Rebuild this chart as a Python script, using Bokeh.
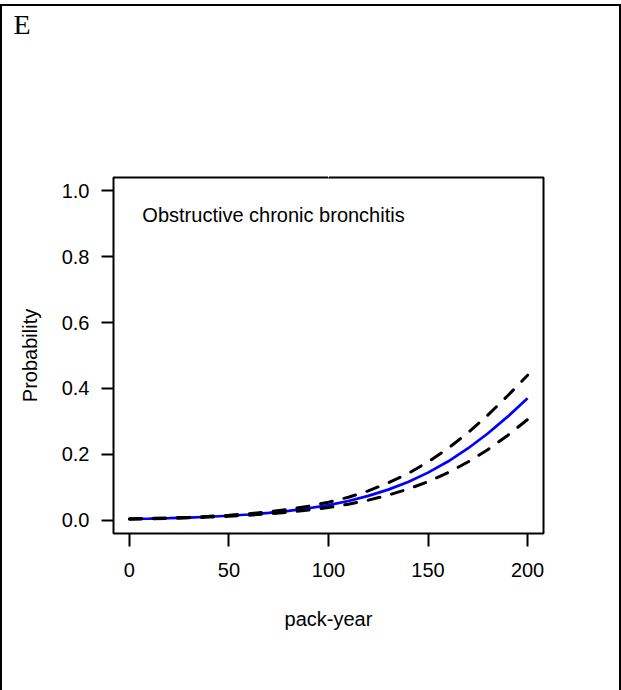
from bokeh.plotting import figure
from bokeh.models import Label, FixedTicker, Range1d, Title, LinearAxis
from bokeh.embed import file_html
from bokeh.resources import INLINE

# ---- data ----
pack_year = [0, 10, 20, 30, 40, 50, 60, 70, 80, 90, 100,
             110, 120, 130, 140, 150, 160, 170, 180, 190, 200]
prob_fit = [0.0040, 0.0051, 0.0066, 0.0084, 0.0108, 0.0138, 0.0176, 0.0225,
            0.0288, 0.0366, 0.0463, 0.0587, 0.0741, 0.0931, 0.1164, 0.1446,
            0.1783, 0.2179, 0.2633, 0.3145, 0.3705]
prob_upper = [0.0046, 0.0058, 0.0074, 0.0094, 0.0120, 0.0154, 0.0200, 0.0258,
              0.0332, 0.0429, 0.0549, 0.0701, 0.0894, 0.1135, 0.1422, 0.1770,
              0.2179, 0.2654, 0.3189, 0.3778, 0.4403]
prob_lower = [0.0034, 0.0045, 0.0058, 0.0075, 0.0097, 0.0123, 0.0156, 0.0196,
              0.0248, 0.0312, 0.0390, 0.0490, 0.0612, 0.0762, 0.0948, 0.1174,
              0.1445, 0.1768, 0.2143, 0.2575, 0.3058]
x_ticks = [0, 50, 100, 150, 200]
y_ticks = [0.0, 0.2, 0.4, 0.6, 0.8, 1.0]
panel_label = "E"
annotation_text = "Obstructive chronic bronchitis"
x_title = "pack-year"
y_title = "Probability"

FONT = "Liberation Sans"

p = figure(width=621, height=686, output_backend="svg", toolbar_location=None,
           x_range=Range1d(-8, 208), y_range=Range1d(-0.04, 1.04),
           min_border_left=111, min_border_right=80,
           min_border_top=0, min_border_bottom=159)
p.styles = {"border-top": "2px solid black", "border-left": "2px solid black",
            "border-right": "2px solid black", "margin-top": "4px",
            "box-sizing": "border-box", "overflow": "hidden"}
p.background_fill_color = "white"
p.border_fill_color = "white"
p.grid.visible = False
p.outline_line_color = "black"
p.outline_line_width = 2
p.outline_line_alpha = 1.0
p.title.text = ""

xax = p.below[0]
yax = p.left[0]

# invisible spacer (white tick on white) between the frame and the panel letter
spacer = LinearAxis(ticker=FixedTicker(ticks=[100]), axis_line_color=None,
                    major_tick_line_color="white", minor_tick_line_color=None,
                    major_tick_out=138, major_tick_in=0, minor_tick_out=0,
                    major_label_standoff=0, major_label_overrides={100: ""},
                    major_label_text_font_size="1px")
p.add_layout(spacer, "above")
p.add_layout(Title(text=panel_label, text_font="Liberation Serif",
                   text_font_size="28px", text_font_style="normal",
                   text_color="black", align="left", offset=-100, standoff=0),
             "above")

for ax in (xax, yax):
    ax.axis_line_color = None
    ax.major_tick_line_color = "black"
    ax.major_tick_line_width = 2
    ax.major_tick_in = 0
    ax.minor_tick_line_color = None
    ax.major_label_text_font = FONT
    ax.major_label_text_font_size = "20px"
    ax.major_label_text_color = "black"
    ax.axis_label_text_font = FONT
    ax.axis_label_text_font_size = "20px"
    ax.axis_label_text_font_style = "normal"
    ax.axis_label_text_color = "black"

xax.ticker = FixedTicker(ticks=x_ticks)
yax.ticker = FixedTicker(ticks=y_ticks)
yax.major_label_overrides = {t: f"{t:.1f}" for t in y_ticks}
xax.major_tick_out = 13
yax.major_tick_out = 12
xax.major_label_standoff = 16
yax.major_label_standoff = 12
yax.major_label_orientation = "horizontal"
xax.axis_label = x_title
yax.axis_label = y_title
xax.axis_label_standoff = 28
yax.axis_label_standoff = 18

p.line(pack_year, prob_fit, line_color="blue", line_width=2.7)
p.line(pack_year, prob_upper, line_color="black", line_width=3,
       line_dash="12 12", line_cap="round")
p.line(pack_year, prob_lower, line_color="black", line_width=3,
       line_dash="12 12", line_cap="round")

p.add_layout(Label(x=6.5, y=0.927, text=annotation_text, text_font=FONT,
                   text_font_size="20px", text_color="black",
                   text_baseline="alphabetic", text_align="left"))

open("out.html", "w").write(file_html(p, INLINE))
